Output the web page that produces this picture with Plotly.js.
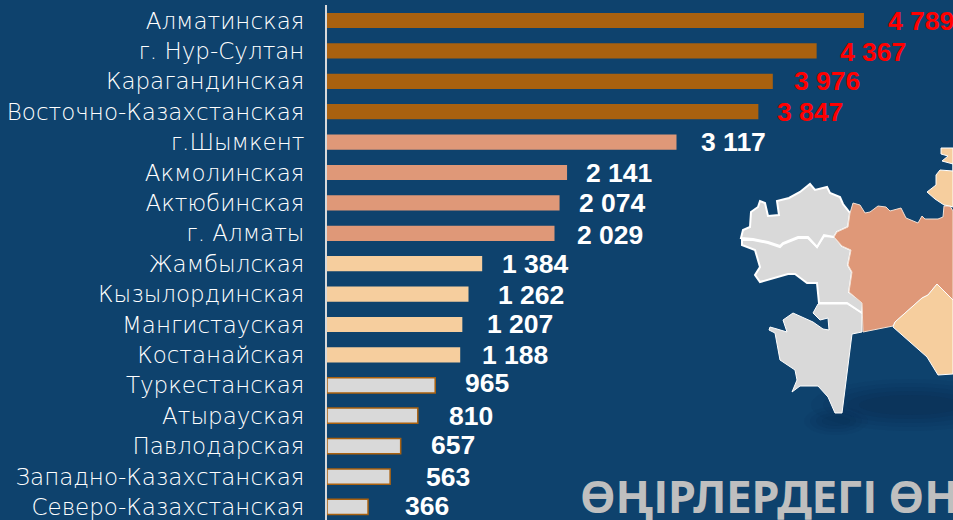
<!DOCTYPE html>
<html><head><meta charset="utf-8">
<script src="https://cdn.plot.ly/plotly-3.0.1.min.js"></script>
<style>html,body{margin:0;padding:0;background:#0E426D;overflow:hidden}#c{width:953px;height:520px}</style>
</head><body><div id="c"></div>
<script>
const regions=["Алматинская","г. Нур-Султан","Карагандинская","Восточно-Казахстанская","г.Шымкент","Акмолинская","Актюбинская","г. Алматы","Жамбылская","Кызылординская","Мангистауская","Костанайская","Туркестанская","Атырауская","Павлодарская","Западно-Казахстанская","Северо-Казахстанская"];
const values=[4789,4367,3976,3847,3117,2141,2074,2029,1384,1262,1207,1188,965,810,657,563,366];
const valueLabels=["4 789","4 367","3 976","3 847","3 117","2 141","2 074","2 029","1 384","1 262","1 207","1 188","965","810","657","563","366"];
const brown="#A9610F",salmon="#DF9878",peach="#F6CE9E",grey="#D9D9D9";
const barColors=[brown,brown,brown,brown,salmon,salmon,salmon,salmon,peach,peach,peach,peach,grey,grey,grey,grey,grey];
const labelColors=values.map((v,i)=>i<4?"#FF0000":"#FFFFFF");
const labelDx=[22,21,19,17,22,17,17,20,18,27,23,20,28,29,28,34,35];
const labelDy=[-1,-1,0,0,0,0,0,-2,0,-1,1,0,2,0,1,0,1];

/* decorative map outlines, in page pixels */
const westA=[[741,238],[743,230],[750,227],[751,212],[758,207],[760,201],[765,203],[768,216],[779,215],[777,201],[789,198],[800,192],[810,184],[815,190],[827,187],[830,193],[840,197],[843,204],[850,213],[848,227],[837,232],[834,237],[824,235],[817,247],[808,237],[798,237],[783,243],[780,246],[768,242],[753,239]];
const westB=[[742,245],[755,250],[760,267],[755,275],[760,282],[788,274],[795,274],[807,283],[817,283],[819,303],[847,303],[862,313],[863,302],[849,292],[852,272],[848,265],[851,250],[842,246],[835,237],[824,236],[817,247],[808,238],[798,238],[783,244],[780,247],[768,243],[753,240],[742,240]];
const westC=[[818,304],[813,313],[820,320],[828,318],[829,330],[823,329],[813,322],[793,313],[783,320],[787,332],[777,329],[770,327],[769,330],[775,333],[780,360],[795,370],[797,380],[792,392],[800,386],[818,386],[828,397],[835,413],[842,413],[852,334],[862,332],[862,313],[847,304]];
const centre=[[850,213],[853,203],[860,205],[865,213],[870,212],[878,206],[886,207],[890,211],[901,208],[906,218],[918,223],[922,216],[925,219],[938,219],[943,217],[944,206],[950,206],[953,211],[953,300],[937,284],[928,295],[922,298],[895,322],[893,326],[863,332],[862,303],[849,292],[852,272],[848,265],[851,250],[842,246],[834,237],[837,232],[848,227]];
const south=[[893,327],[895,322],[922,298],[928,295],[937,284],[953,300],[953,374],[938,375],[927,357]];
const north=[[941,148],[953,148],[953,207],[950,206],[944,205],[935,199],[927,192],[936,185],[936,175],[940,170],[953,171],[953,164],[942,161],[948,156],[941,154]];

const toPath=p=>"M"+p.map(q=>q[0]+","+q[1]).join("L")+"Z";
const shape=(p,fill,lc,lw)=>({type:"path",xref:"x2",yref:"y2",path:toPath(p),fillcolor:fill,line:{color:lc,width:lw},layer:"below"});
const glow=(cx,cy,rx,ry,op)=>({type:"circle",xref:"x2",yref:"y2",x0:cx-rx,x1:cx+rx,y0:cy-ry,y1:cy+ry,fillcolor:"#0B2C4A",opacity:op,line:{width:0},layer:"below"});
const shapes=[];
[[66,26,.08],[58,22,.1],[50,18,.12],[42,14,.14],[34,10,.16]].forEach(s=>shapes.push(glow(910,405,s[0]*1.5,s[1],s[2])));
[[32,14,.08],[26,11,.1],[20,8,.12],[14,5,.12]].forEach(s=>shapes.push(glow(836,421,s[0],s[1],s[2])));
shapes.push(shape(westC,grey,"#FFFFFF",1),shape(westB,grey,"#FFFFFF",2),shape(westA,grey,"#FFFFFF",2),shape(centre,salmon,"#F2E0D4",1),shape(south,peach,"#FFFFFF",1),shape(north,peach,"#FFFFFF",1));

const annotations=values.map((v,i)=>({x:v,y:regions[i],xref:"x",yref:"y",text:"<b>"+valueLabels[i]+"</b>",showarrow:false,xanchor:"left",yanchor:"middle",xshift:labelDx[i],yshift:labelDy[i],font:{family:"Liberation Sans",size:26.5,color:labelColors[i]}}));
annotations.push({xref:"x2",yref:"y2",x:578,y:495,text:"<b>ӨҢІРЛЕРДЕГІ ӨН</b>",showarrow:false,xanchor:"left",yanchor:"middle",font:{family:"Noto Sans",size:45,color:"#BFBFBF"}});

Plotly.newPlot("c",[{type:"bar",orientation:"h",y:regions,x:values,width:0.5,marker:{color:barColors,line:{color:barColors.map(c=>c===grey?brown:c),width:barColors.map(c=>c===grey?1.5:0)}},hoverinfo:"skip"},
{type:"scatter",x:[0],y:[0],xaxis:"x2",yaxis:"y2",mode:"none",showlegend:false,hoverinfo:"skip"}],{
width:953,height:520,margin:{l:0,r:0,t:0,b:0,pad:0},paper_bgcolor:"#0E426D",plot_bgcolor:"rgba(0,0,0,0)",showlegend:false,
xaxis:{domain:[327/953,1],range:[0,5583],visible:false,fixedrange:true},
yaxis:{domain:[0,515/520],type:"category",range:[16.43,-0.51],categoryorder:"array",categoryarray:regions,showgrid:false,zeroline:false,showline:true,linecolor:"#D9D9D9",linewidth:2,ticks:"",ticklabelstandoff:16,tickfont:{family:"DejaVu Sans",size:23,weight:200,color:"#FFFFFF"},fixedrange:true},
xaxis2:{domain:[0,1],range:[0,953],visible:false,anchor:"y2",fixedrange:true},
yaxis2:{domain:[0,1],range:[520,0],visible:false,anchor:"x2",fixedrange:true},
shapes,annotations},{staticPlot:true});
</script></body></html>
